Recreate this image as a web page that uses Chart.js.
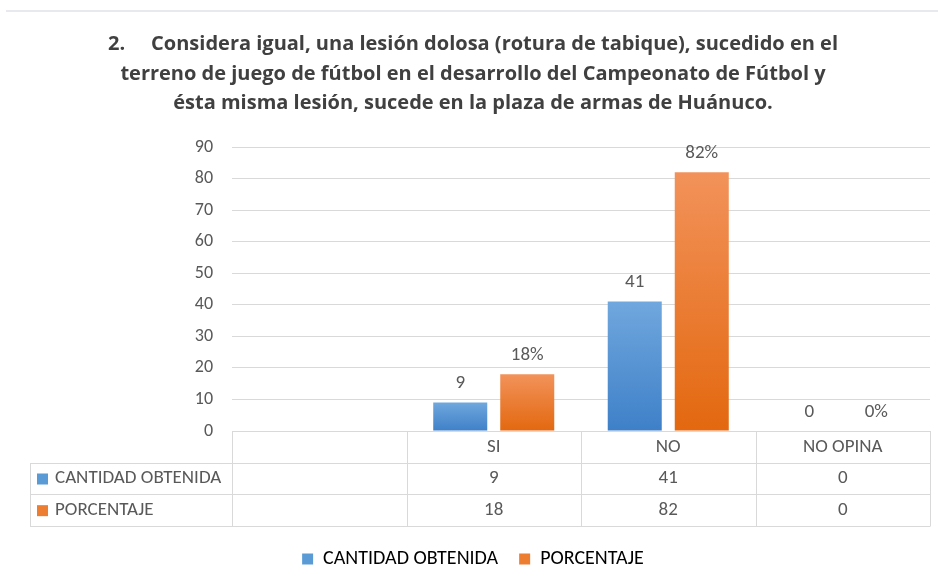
<!DOCTYPE html>
<html>
<head>
<meta charset="utf-8">
<script src="https://cdn.jsdelivr.net/npm/chart.js@4.4.1/dist/chart.umd.min.js"></script>
<style>
  html, body { margin: 0; padding: 0; background: #fff; }
  #wrap { position: relative; width: 938px; height: 583px; }
  #topline { position: absolute; left: 6px; right: 0; top: 10px; height: 2px; background: #e8e9ee; }
  canvas { position: absolute; left: 0; top: 0; }
</style>
</head>
<body>
<div id="wrap">
  <div id="topline"></div>
  <canvas id="chart" width="938" height="583"></canvas>
</div>
<script>
// --- Data ---
const categories = ['', 'SI', 'NO', 'NO OPINA'];
const cantidad = [null, 9, 41, 0];
const porcentaje = [null, 18, 82, 0];
const seriesNames = ['CANTIDAD OBTENIDA', 'PORCENTAJE'];
const labelSuffix = ['', '%'];
const titleLines = [
    '2.     Considera igual, una lesión dolosa (rotura de tabique), sucedido en el',
    'terreno de juego de fútbol en el desarrollo del Campeonato de Fútbol y',
    'ésta misma lesión, sucede en la plaza de armas de Huánuco.'
];
const yMin = 0;
const yMax = 90;
const yStep = 10;

const FONT = 'Carlito, Lato, sans-serif';
const TITLE_FONT = '"Open Sans", Lato, sans-serif';
const TEXT = '#595959';
const GRID = '#d9d9d9';
const seriesColors = [
    { top: '#70a7de', bottom: '#3e80c8', flat: '#5b9bd5' },
    { top: '#f2925a', bottom: '#e3680f', flat: '#ed7d31' }
];

// gradient per bar, from the bar top to the zero line
function barFill(ctx) {
    const c = seriesColors[ctx.datasetIndex];
    const chart = ctx.chart;
    const y = chart.scales.y;
    if (!chart.chartArea || !y || ctx.raw == null) return c.flat;
    const top = y.getPixelForValue(ctx.raw);
    const base = y.getPixelForValue(0);
    if (base - top < 1) return c.flat;
    const g = chart.ctx.createLinearGradient(0, top, 0, base);
    g.addColorStop(0, c.top);
    g.addColorStop(1, c.bottom);
    return g;
}

// --- Plugins ---
const valueLabels = {
    id: 'valueLabels',
    afterDatasetsDraw(chart) {
        const ctx = chart.ctx;
        ctx.save();
        ctx.font = '19px ' + FONT;
        ctx.fillStyle = TEXT;
        ctx.textAlign = 'center';
        ctx.textBaseline = 'middle';
        chart.data.datasets.forEach((ds, di) => {
            const meta = chart.getDatasetMeta(di);
            meta.data.forEach((bar, i) => {
                const v = ds.data[i];
                if (v == null) return;
                ctx.fillText(v + labelSuffix[di], bar.x, bar.y - 19);
            });
        });
        ctx.restore();
    }
};

// data table under the plot, drawn in the space of the x axis
const dataTable = {
    id: 'dataTable',
    afterDraw(chart) {
        const ctx = chart.ctx;
        const x = chart.scales.x;
        const left = x.left, right = x.right;
        const tableLeft = 30;
        const top = x.top;
        const rh = 95 / 3;
        const colW = (right - left) / categories.length;

        ctx.save();
        ctx.strokeStyle = GRID;
        ctx.lineWidth = 1;
        ctx.beginPath();
        ctx.moveTo(left, top + 0.5); ctx.lineTo(right, top + 0.5);
        for (let r = 1; r <= 3; r++) {
            const yy = Math.round(top + r * rh) + 0.5;
            ctx.moveTo(tableLeft, yy); ctx.lineTo(right, yy);
        }
        const bottom = Math.round(top + 3 * rh) + 0.5;
        ctx.moveTo(tableLeft + 0.5, Math.round(top + rh)); ctx.lineTo(tableLeft + 0.5, bottom);
        for (let c = 0; c <= categories.length; c++) {
            const xx = Math.round(left + c * colW) + 0.5;
            ctx.moveTo(xx, top); ctx.lineTo(xx, bottom);
        }
        ctx.stroke();

        ctx.font = '19px ' + FONT;
        ctx.fillStyle = TEXT;
        ctx.textBaseline = 'middle';
        ctx.textAlign = 'center';
        categories.forEach((cat, i) => {
            ctx.fillText(cat, x.getPixelForValue(i), top + rh / 2);
        });
        const rows = [cantidad, porcentaje];
        rows.forEach((vals, r) => {
            const cy = top + rh * (r + 1.5);
            ctx.textAlign = 'center';
            ctx.fillStyle = TEXT;
            vals.forEach((v, i) => {
                if (v == null) return;
                ctx.fillText(String(v), x.getPixelForValue(i), cy);
            });
            ctx.fillStyle = seriesColors[r].flat;
            ctx.fillRect(tableLeft + 7, cy - 5, 11, 11);
            ctx.fillStyle = TEXT;
            ctx.textAlign = 'left';
            ctx.fillText(seriesNames[r], tableLeft + 25, cy);
        });
        ctx.restore();
    }
};

// --- Chart ---
new Chart(document.getElementById('chart'), {
    type: 'bar',
    data: {
        labels: categories,
        datasets: [
            { label: seriesNames[0], data: cantidad, backgroundColor: barFill, borderWidth: 0 },
            { label: seriesNames[1], data: porcentaje, backgroundColor: barFill, borderWidth: 0 }
        ]
    },
    options: {
        responsive: false,
        animation: false,
        devicePixelRatio: 1,
        categoryPercentage: 0.768,
        barPercentage: 0.806,
        layout: { padding: { left: 16, right: 8, top: 0, bottom: 4 } },
        scales: {
            x: {
                grid: { display: false },
                border: { display: false },
                ticks: { display: false },
                afterFit(scale) { scale.height = 97; }
            },
            y: {
                min: yMin,
                max: yMax,
                ticks: {
                    stepSize: yStep,
                    color: TEXT,
                    font: { family: FONT, size: 18 },
                    padding: 19
                },
                grid: { color: GRID, drawTicks: false },
                border: { display: false },
                afterFit(scale) { scale.width = 216; }
            }
        },
        plugins: {
            title: {
                display: true,
                text: titleLines,
                color: '#404040',
                font: { family: TITLE_FONT, size: 20, weight: 'bold', lineHeight: 1.475 },
                padding: { top: 30, bottom: 28.5 }
            },
            legend: {
                position: 'bottom',
                labels: {
                    color: TEXT,
                    font: { family: FONT, size: 20 },
                    boxWidth: 11,
                    boxHeight: 11,
                    padding: 21,
                    generateLabels(chart) {
                        return seriesNames.map((name, i) => ({
                            text: name,
                            fillStyle: seriesColors[i].flat,
                            strokeStyle: seriesColors[i].flat,
                            lineWidth: 0,
                            datasetIndex: i,
                            hidden: false
                        }));
                    }
                }
            },
            tooltip: { enabled: false }
        }
    },
    plugins: [valueLabels, dataTable]
});
</script>
</body>
</html>
